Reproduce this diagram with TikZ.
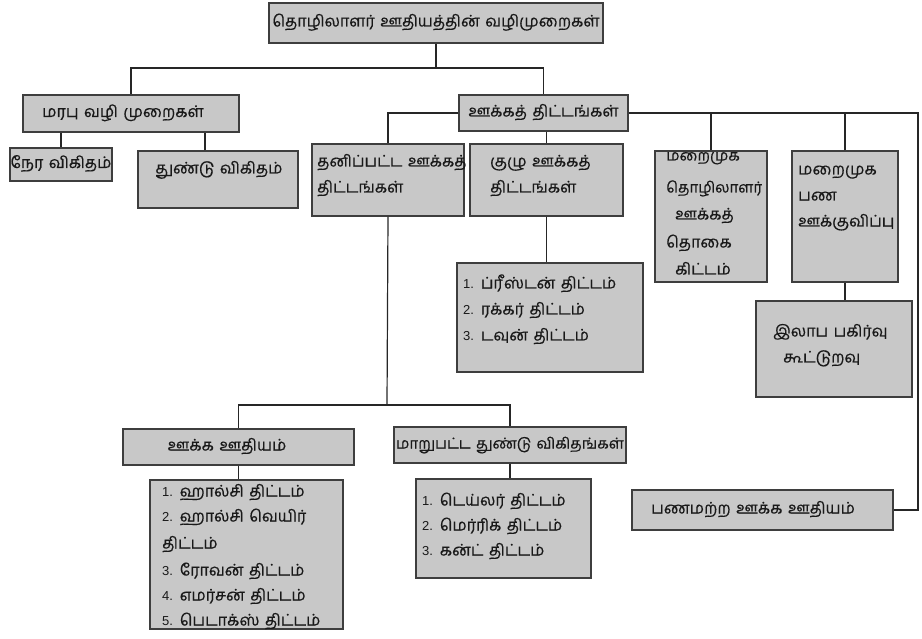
\documentclass[tikz,border=0pt]{standalone}
\usepackage{fontspec}
\newfontfamily\tamilfont[Script=Tamil, FakeBold=0.4, WordSpace=1.4]{Hind Madurai}
\newfontfamily\numfont{Liberation Sans}
\usetikzlibrary{fit}
\definecolor{boxgray}{RGB}{200,200,200}
\definecolor{edgegray}{RGB}{62,62,62}
\newcommand{\itemno}[1]{{\numfont\fontsize{13}{15}\selectfont #1}}
\tikzset{
	box/.style={draw=edgegray, fill=boxgray, line width=1.4pt, inner sep=0pt, rectangle},
	txt/.style={inner sep=0pt, text height=11pt, text depth=4pt, font=\tamilfont\fontsize{16}{26}\selectfont, text=black!90},
	small/.style={font=\tamilfont\fontsize{15}{26}\selectfont},
	link/.style={line width=1.2pt, draw=black!85}
}
\begin{document}
\begin{tikzpicture}[x=1pt, y=-1pt]
	\useasboundingbox (0,0) rectangle (922,639);
	% boxes
	\node[box, fit={(269,3) (603,43)}] (top) {};
	\node[box, fit={(23,95) (239,132)}] (marabu) {};
	\node[box, fit={(10,148) (112,181)}] (nera) {};
	\node[box, fit={(138,151) (298,208)}] (thundu) {};
	\node[box, fit={(459,95) (628,131)}] (ookka) {};
	\node[box, fit={(312,144) (464,216)}] (thani) {};
	\node[box, fit={(470,144) (623,216)}] (kuzhu) {};
	\node[box, fit={(655,151) (767,282)}] (maraiA) {};
	\node[box, fit={(792,151) (898,282)}] (maraiB) {};
	\node[box, fit={(457,263) (643,372)}] (preston) {};
	\node[box, fit={(756,301) (912,397)}] (ilabam) {};
	\node[box, fit={(123,429) (354,465)}] (ookkam) {};
	\node[box, fit={(394,427) (626,463)}] (maaru) {};
	\node[box, fit={(150,480) (343,629)}] (halsey) {};
	\node[box, fit={(416,479) (591,578)}] (taylor) {};
	\node[box, fit={(632,490) (893,530)}] (panam) {};

	% connectors
	\coordinate (j1) at (436,68);
	\draw[link] (top.south) -- (j1);
	\draw[link] (j1) -| (marabu.north);
	\draw[link] (j1) -| (ookka.north);
	\draw[link] (marabu.south -| nera.north) -- (nera.north);
	\draw[link] ([xshift=-13pt]thundu.north) -- ([xshift=-13pt]thundu.north |- marabu.south);
	\draw[link] (ookka.west) -| (thani.north);
	\draw[link] (ookka.south -| kuzhu.north) -- (kuzhu.north);
	\coordinate (rcorner) at (918,113);
	\draw[link] (ookka.east) -- (rcorner) |- (panam.east);
	\draw[link] (maraiA.north) -- (maraiA.north |- rcorner);
	\draw[link] (maraiB.north) -- (maraiB.north |- rcorner);
	\draw[link] (maraiB.south) -- (maraiB.south |- ilabam.north);
	\draw[link] (kuzhu.south) -- (kuzhu.south |- preston.north);
	\coordinate (j2) at (387,405);
	\draw[link] (thani.south) -- (j2);
	\draw[link] (j2) -| (ookkam.north);
	\draw[link] (j2) -| (maaru.north);
	\draw[link] (ookkam.south) -- (ookkam.south |- halsey.north);
	\draw[link] (maaru.south) -- (maaru.south |- taylor.north);

	% texts
	\node[txt] (topT) at (top) {தொழிலாளர் ஊதியத்தின் வழிமுறைகள்};
	\node[txt] (marabuT) at ([xshift=-8pt]marabu.center) {மரபு வழி முறைகள்};
	\node[txt] (neraT) at (nera) {நேர விகிதம்};
	\node[txt, anchor=west] (thunduT) at (155,170) {துண்டு விகிதம்};
	\node[txt] (ookkaT) at (ookka) {ஊக்கத் திட்டங்கள்};
	\node[txt, anchor=west] (thaniA) at (317,163) {தனிப்பட்ட ஊக்கத்};
	\node[txt, anchor=west] (thaniB) at (317,189) {திட்டங்கள்};
	\node[txt, anchor=west] (kuzhuA) at (490,163) {குழு ஊக்கத்};
	\node[txt, anchor=west] (kuzhuB) at (490,189) {திட்டங்கள்};
	\begin{scope}
		\clip (655,151) rectangle (767,282);
		\node[txt, small, anchor=west] (maraiA1) at (666,157) {மறைமுக};
	\end{scope}
	\node[txt, small, anchor=west] (maraiA2) at (666,189) {தொழிலாளர்};
	\node[txt, anchor=west] (maraiA3) at (675,216) {ஊக்கத்};
	\node[txt, anchor=west] (maraiA4) at (666,244) {தொகை};
	\node[txt, anchor=west] (maraiA5) at (675,271) {கிட்டம்};
	\foreach \t [count=\i] in {மறைமுக, பண, ஊக்குவிப்பு}
		\node[txt, anchor=west] (maraiB\i) at (798,{145+26*\i}) {\t};
	\foreach \t [count=\i] in {{\itemno{1.} ப்ரீஸ்டன் திட்டம்}, {\itemno{2.} ரக்கர் திட்டம்}, {\itemno{3.} டவுன் திட்டம்}}
		\node[txt, anchor=west] (preston\i) at (463,{259+26*\i}) {\t};
	\node[txt, anchor=west] (ilabamA) at (773,333) {இலாப பகிர்வு};
	\node[txt, anchor=west] (ilabamB) at (783,359) {கூட்டுறவு};
	\node[txt] (ookkamT) at (227,447) {ஊக்க ஊதியம்};
	\node[txt, small] (maaruT) at (510,445) {மாறுபட்ட துண்டு விகிதங்கள்};
	\foreach \t/\y [count=\i] in {{\itemno{1.} ஹால்சி திட்டம்}/493, {\itemno{2.} ஹால்சி வெயிர்}/518, {திட்டம்}/545, {\itemno{3.} ரோவன் திட்டம்}/572, {\itemno{4.} எமர்சன் திட்டம்}/597, {\itemno{5.} பெடாக்ஸ் திட்டம்}/622}
		\node[txt, anchor=west] (halsey\i) at (162,\y) {\t};
	\foreach \t [count=\i] in {{\itemno{1.} டெய்லர் திட்டம்}, {\itemno{2.} மெர்ரிக் திட்டம்}, {\itemno{3.} கன்ட் திட்டம்}}
		\node[txt, anchor=west] (taylor\i) at (422,{477+25*\i}) {\t};
	\node[txt, anchor=west] (panamT) at (651,510) {பணமற்ற ஊக்க ஊதியம்};
\end{tikzpicture}
\end{document}
